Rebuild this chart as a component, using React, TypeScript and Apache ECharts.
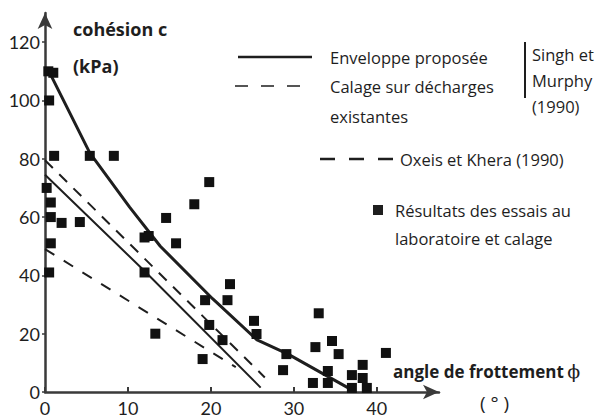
import React, { useEffect, useRef } from "react";
import * as echarts from "echarts";

// Axis ticks
const xTicks = [0, 10, 20, 30, 40];
const yTicks = [0, 20, 40, 60, 80, 100, 120];

// Envelope proposed (Singh & Murphy 1990) – upper bound (thick)
const envelopeUpper: [number, number][] = [
  [0.3, 111], [5.4, 82], [10.2, 63.4], [13.9, 50], [20.2, 32], [25.5, 18], [29.3, 13], [36.5, 1.5],
];
// Envelope proposed – lower bound (thin)
const envelopeLower: [number, number][] = [
  [0, 74.5], [12, 41.5], [26, 1.5],
];
// Calage sur décharges existantes (dashed)
const calage: [number, number][] = [
  [0, 79.5], [26.5, 5],
];
// Oxeis et Khera (1990) (dashed)
const oxeis: [number, number][] = [
  [0, 49], [23, 8.5],
];
// Résultats des essais au laboratoire et calage
const essais: [number, number][] = [
  [0.4, 110], [1.0, 109.5], [0.5, 100], [1.1, 81], [5.4, 81], [8.3, 81],
  [0.2, 70], [0.7, 65], [0.7, 60], [2, 58], [4.2, 58.3], [0.7, 51], [0.5, 41],
  [12, 53], [12.5, 53.5], [12, 41], [14.6, 59.7], [15.8, 51], [18, 64.4], [19.8, 72],
  [22.3, 37], [19.3, 31.5], [22, 31.5], [13.3, 20], [19.8, 23], [21.4, 17.8],
  [25.2, 24.4], [25.5, 19.9], [19, 11.3], [28.7, 7.5], [29.1, 13],
  [33, 27], [32.6, 15.4], [34.6, 17.5], [35.4, 13], [34.1, 7.2], [32.3, 3.1], [34.1, 3.1],
  [37, 5.8], [38.3, 9.3], [38.3, 4.8], [37, 1.4], [38.8, 1.4], [41.1, 13.4],
];

const FONT = "Open Sans";
const TICKFONT = "Lato";
const INK = "#1e1e1e";
const AXIS = "#3a3a3a";

export default function App() {
  const ref = useRef<HTMLDivElement>(null);
  useEffect(() => {
    if (!ref.current) return;
    const chart = echarts.init(ref.current, undefined, { renderer: "svg" });
    const txt = (x: number, y: number, text: string, bold = false, size = 16.5) => ({
      type: "text",
      x,
      y,
      style: {
        text,
        fill: INK,
        fontFamily: FONT,
        fontSize: size,
        fontWeight: bold ? "bold" : "normal",
        verticalAlign: "middle",
        align: "left",
      },
    });
    const option: any = {
      animation: false,
      backgroundColor: "#ffffff",
      grid: { left: 45, right: 159, top: 13, bottom: 26 },
      xAxis: {
        type: "value",
        min: 0,
        max: 47.5,
        interval: 10,
        axisLine: {
          show: true,
          lineStyle: { color: AXIS, width: 2.5 },
          symbol: ["none", "arrow"],
          symbolSize: [11, 16],
        },
        axisTick: { show: true, inside: true, length: 5, lineStyle: { color: AXIS, width: 2 } },
        axisLabel: {
          color: INK,
          fontSize: 18,
          fontFamily: TICKFONT,
          margin: 7,
          showMaxLabel: false,
          formatter: (v: number) => (xTicks.includes(v) ? String(v) : ""),
        },
        splitLine: { show: false },
      },
      yAxis: {
        type: "value",
        min: 0,
        max: 130,
        interval: 20,
        axisLine: {
          show: true,
          lineStyle: { color: AXIS, width: 2.5 },
          symbol: ["none", "arrow"],
          symbolSize: [11, 16],
        },
        axisTick: { show: true, length: 3, lineStyle: { color: AXIS, width: 1.5 } },
        axisLabel: {
          color: INK,
          fontSize: 18,
          fontFamily: TICKFONT,
          margin: 5,
          showMaxLabel: false,
          formatter: (v: number) => (yTicks.includes(v) ? String(v) : ""),
        },
        splitLine: { show: false },
      },
      series: [
        {
          name: "Enveloppe proposée (haut)",
          type: "line",
          data: envelopeUpper,
          showSymbol: false,
          lineStyle: { color: INK, width: 3 },
          z: 3,
        },
        {
          name: "Enveloppe proposée (bas)",
          type: "line",
          data: envelopeLower,
          showSymbol: false,
          lineStyle: { color: INK, width: 2 },
          z: 3,
        },
        {
          name: "Calage sur décharges existantes",
          type: "line",
          data: calage,
          showSymbol: false,
          lineStyle: { color: INK, width: 2, type: [11, 9] },
          z: 3,
        },
        {
          name: "Oxeis et Khera (1990)",
          type: "line",
          data: oxeis,
          showSymbol: false,
          lineStyle: { color: INK, width: 2, type: [11, 11] },
          z: 3,
        },
        {
          name: "Résultats des essais au laboratoire et calage",
          type: "scatter",
          data: essais,
          symbol: "rect",
          symbolSize: 10,
          itemStyle: { color: "#111111", opacity: 1 },
          z: 4,
        },
      ],
      graphic: [
        txt(73, 29, "cohésion c", true, 18),
        txt(73, 66, "(kPa)", true, 18),
        {
          type: "text",
          x: 393,
          y: 371,
          style: {
            text: "{b|angle de frottement} {p|\u03d5}",
            verticalAlign: "middle",
            rich: {
              b: { fontFamily: FONT, fontWeight: "bold", fontSize: 17, fill: INK },
              p: { fontFamily: "DejaVu Serif", fontSize: 19, fill: INK },
            },
          },
        },
        txt(480, 403, "( ° )", false, 19),
        // legend: solid line
        { type: "line", shape: { x1: 238, y1: 57, x2: 312, y2: 57 }, style: { stroke: INK, lineWidth: 2.5 } },
        txt(330, 57, "Enveloppe proposée"),
        // legend: dashed
        { type: "line", shape: { x1: 235, y1: 86, x2: 300, y2: 86 }, style: { stroke: INK, lineWidth: 1.5, lineDash: [13, 13] } },
        txt(330, 86, "Calage sur décharges"),
        txt(330, 116, "existantes"),
        // bracket
        { type: "line", shape: { x1: 525, y1: 42, x2: 525, y2: 98 }, style: { stroke: INK, lineWidth: 2 } },
        txt(532, 54, "Singh et"),
        txt(532, 80, "Murphy"),
        txt(532, 106, "(1990)"),
        // legend: Oxeis dashed
        { type: "line", shape: { x1: 320, y1: 159, x2: 393, y2: 159 }, style: { stroke: INK, lineWidth: 2.5, lineDash: [15, 14] } },
        txt(400, 159, "Oxeis et Khera (1990)"),
        // legend: square
        { type: "rect", shape: { x: 373, y: 205, width: 10, height: 10 }, style: { fill: INK } },
        txt(395, 210, "Résultats des essais au"),
        txt(395, 238, "laboratoire et calage"),
      ],
    };
    chart.setOption(option);
    return () => chart.dispose();
  }, []);
  return <div ref={ref} style={{ width: 598, height: 418, position: "absolute", left: 0, top: 0 }} />;
}
